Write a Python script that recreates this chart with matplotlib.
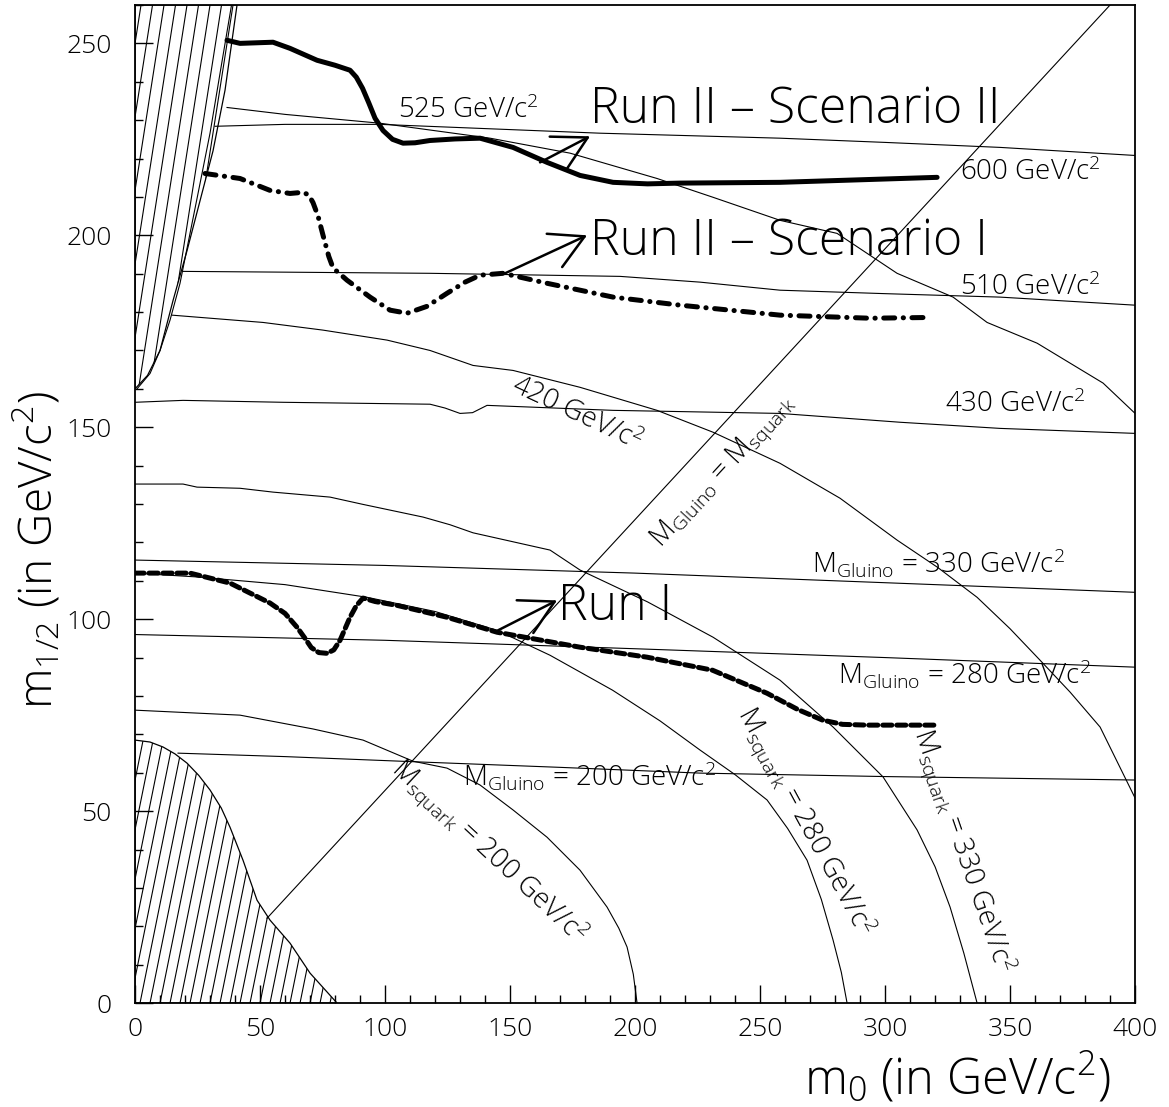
"""
mSUGRA reach plot (m0, m1/2) redrawn with matplotlib
"""

import numpy as np
import matplotlib
matplotlib.use("Agg")
import matplotlib.pyplot as plt
from matplotlib.patches import Polygon

FONT = 'Open Sans'
plt.rcParams['font.family'] = [FONT, 'DejaVu Sans']
plt.rcParams['font.weight'] = 'light'
plt.rcParams['mathtext.fontset'] = 'custom'
plt.rcParams['mathtext.rm'] = FONT + ':light'
plt.rcParams['mathtext.it'] = FONT + ':light'

# --- reach curves -------------------------------------------------------
scen2_x = [36.8, 42, 55.2, 62, 72.8, 80, 86, 88.5, 91, 93.5, 96, 99.2, 103, 107.2, 112, 118, 128, 138, 151.2, 164.8, 178, 191.2, 205, 218, 258, 320.8]
scen2_y = [250.8, 250.0, 250.3, 248.7, 245.6, 244.3, 243.0, 241.2, 238.3, 234.5, 230.5, 227.3, 225.0, 224.0, 224.1, 224.7, 225.1, 225.3, 222.9, 219.0, 215.6, 213.8, 213.4, 213.6, 213.8, 215.1]

scen1_x = [28, 42, 54, 62, 67.2, 69.5, 71.2, 73.2, 75.2, 77.5, 79.2, 84.8, 94, 102, 108.8, 116.8, 124.8, 132, 138, 147.2, 164.8, 191.2, 218, 258, 294, 318]
scen1_y = [216.1, 214.8, 211.7, 210.9, 211.2, 210.5, 208.5, 205.0, 200.0, 194.5, 191.5, 188.3, 183.9, 180.5, 179.7, 181.5, 184.9, 187.8, 189.6, 190.1, 187.5, 183.9, 181.8, 179.2, 178.4, 178.6]

run1_x = [0, 22, 38, 54, 60, 64.8, 68, 70.5, 73.5, 76.8, 79.5, 82, 84, 86, 88.5, 91.2, 96, 104.8, 124.8, 144.8, 178, 204.8, 231, 252.8, 265, 275, 283, 292.8, 320.8]
run1_y = [112.0, 112.0, 109.4, 104.2, 101.5, 97.9, 95.0, 92.6, 91.3, 91.1, 92.0, 94.5, 97.5, 100.5, 103.5, 105.5, 104.6, 103.6, 100.5, 96.6, 92.7, 90.1, 86.7, 80.7, 76.5, 73.7, 72.6, 72.4, 72.4]

# --- thin mass contours -------------------------------------------------
c525_x = [36.8, 60, 98, 142, 174, 208.8, 231.2, 258, 280.8, 304.8, 327.2, 340.8, 360.8, 387.2, 400]
c525_y = [233.3, 231.5, 229.2, 225.3, 221.4, 214.8, 209.9, 203.9, 200.5, 190.1, 183.9, 177.3, 171.9, 161.5, 153.6]

c600_x = [32, 60, 98, 140, 186, 258, 300, 346, 400]
c600_y = [228.4, 228.9, 228.9, 227.8, 226.6, 225.3, 224.2, 222.9, 220.8]

c510_x = [19.2, 60, 118, 194, 226, 258, 300, 346, 400]
c510_y = [190.6, 190.4, 190.1, 189.3, 187.8, 185.7, 184.8, 183.9, 181.8]

c420_x = [14.8, 51.2, 75.2, 100.8, 118, 135.2, 151.2, 178, 208.8, 231.2, 258, 282, 304.8, 321, 336.8, 350, 362, 374, 386, 400]
c420_y = [179.2, 177.3, 175.3, 172.7, 170.0, 166.1, 164.8, 160.4, 154.4, 148.7, 140.6, 131.5, 120.6, 113.5, 105.7, 97.5, 89.3, 81.0, 71.9, 53.4]

c430_x = [0, 19.2, 59.2, 118, 124, 130, 135, 140.8, 191.2, 258, 306, 346, 400]
c430_y = [156.5, 157.0, 156.5, 156.0, 155.0, 153.6, 153.8, 155.7, 154.4, 153.6, 151.3, 149.7, 148.4]

gl330_x = [0, 100, 200, 300, 400]
gl330_y = [115.4, 114.0, 112.0, 109.5, 107.0]

gl280_x = [0, 100, 200, 300, 400]
gl280_y = [96.0, 94.5, 92.3, 90.0, 87.5]

gl200_x = [17.2, 60, 114, 170, 226, 300, 400]
gl200_y = [65.1, 64.2, 62.8, 61.4, 59.9, 59.0, 58.1]

sq330_x = [0, 19.2, 24.8, 42, 55.2, 78, 91.2, 115.2, 126, 135.2, 166, 178, 205, 231.2, 258, 279.2, 299.2, 312.8, 320, 326, 331.5, 336.8]
sq330_y = [135.2, 135.2, 134.4, 134.1, 133.1, 131.8, 129.9, 126.6, 124.6, 122.5, 118.0, 112.8, 104.5, 95.3, 84.1, 71.9, 58.9, 45.1, 35.5, 25.0, 13.0, 0.0]

sq280_x = [0, 24.8, 60, 92.8, 120, 144.8, 166, 191, 210, 226, 240, 252.8, 261, 268.8, 274.5, 279.2, 282.5, 284.8]
sq280_y = [112.0, 111.0, 109.0, 105.7, 102.0, 97.1, 90.6, 81.5, 73.5, 65.9, 59.5, 52.9, 45.5, 37.2, 27.0, 16.4, 8.0, 0.0]

sq200_x = [0, 42, 71.2, 91.2, 111.2, 124.8, 138, 151.2, 164.8, 178, 188.8, 193.5, 196.8, 199.3, 200.8]
sq200_y = [76.3, 75.0, 71.4, 68.5, 63.0, 61.2, 56.8, 50.3, 43.2, 34.6, 25.0, 19.5, 14.6, 7.5, 0.0]

diag_x = [52.8, 390.0]
diag_y = [22.1, 260.0]

# --- excluded regions ---------------------------------------------------
top_bound_x = [0, 5, 10, 15.2, 20.8, 26, 31.2, 36, 40.8]
top_bound_y = [160, 163.5, 170, 183, 196, 209, 222, 237.8, 260]
top_inner_x = [0.8, 6, 10, 14, 18, 22, 26, 30, 34, 38.6]
top_inner_y = [160, 164, 170, 177.9, 187.5, 200.5, 213.5, 226.6, 242.2, 260]

low_bound_x = [0, 6, 11.2, 16, 20.8, 25.5, 30, 34.5, 38, 43.2, 48.8, 54, 62, 70, 80.8]
low_bound_y = [68.5, 68.0, 66.7, 64.9, 62.5, 59.3, 55.5, 50.8, 45.8, 37.2, 26.8, 21.6, 15.6, 7.8, 0.0]

fig = plt.figure(figsize=(11.69, 11.07), dpi=100)
ax = fig.add_axes([0.1155, 0.0939, 0.8555, 0.9016])
ax.set_xlim(0, 400)
ax.set_ylim(0, 260)

thin = dict(color='black', lw=0.8)
for cx, cy in [(c525_x, c525_y), (c600_x, c600_y), (c510_x, c510_y), (c420_x, c420_y),
               (c430_x, c430_y), (gl330_x, gl330_y), (gl280_x, gl280_y), (gl200_x, gl200_y),
               (sq330_x, sq330_y), (sq280_x, sq280_y), (sq200_x, sq200_y), (diag_x, diag_y)]:
    ax.plot(cx, cy, **thin)


def hatch_region(ax, px, py, spacing, slope, x_lo, x_hi, y_lo, y_hi):
    # steep hatching clipped to a polygon (matplotlib hatches are 45 deg only)
    poly = Polygon(np.column_stack([px, py]), closed=True, facecolor='none',
                   edgecolor='black', lw=0.9)
    ax.add_patch(poly)
    for x0 in np.arange(x_lo, x_hi, spacing):
        ln, = ax.plot([x0, x0 + slope * (y_hi - y_lo)], [y_lo, y_hi], color='black', lw=0.8)
        ln.set_clip_path(poly)


# upper-left (theory excluded) region
hx = [0] + top_bound_x + [0]
hy = [160] + top_bound_y + [260]
hatch_region(ax, hx, hy, 4.6, 0.24, -70, 45, 150, 262)
ax.plot(top_inner_x, top_inner_y, **thin)

# lower-left (LEP excluded) region
lx = [0] + low_bound_x + [0]
ly = [68.5] + low_bound_y + [0]
hatch_region(ax, lx, ly, 4.0, 0.31, -30, 85, 0, 80)

# reach curves
ax.plot(scen2_x, scen2_y, color='black', lw=3.6, solid_capstyle='round', solid_joinstyle='round')
ax.plot(scen1_x, scen1_y, color='black', lw=3.6, dashes=(2.2, 1.7, 0.05, 1.7),
        dash_capstyle='round')
ax.plot(run1_x, run1_y, color='black', lw=3.6, dashes=(1.8, 1.0), dash_capstyle='round')

arrow = dict(arrowstyle='->,head_length=1.0,head_width=0.55', lw=1.8, color='black',
             mutation_scale=24, shrinkA=0, shrinkB=0)
ax.annotate('', xy=(182, 225.8), xytext=(162, 219.0), arrowprops=arrow)
ax.annotate('', xy=(180.8, 200.0), xytext=(148, 190.1), arrowprops=arrow)
ax.annotate('', xy=(168.8, 104.9), xytext=(145.2, 97.1), arrowprops=arrow)

big = dict(fontsize=36, fontweight='light', ha='left', va='baseline')
ax.text(182, 229.2, 'Run II \u2013 Scenario II', **big)
ax.text(182, 194.8, 'Run II \u2013 Scenario I', **big)
ax.text(169.2, 99.7, 'Run I', **big)

mid = dict(fontsize=20, ha='left', va='baseline')
ax.text(105.2, 230.5, r'525 GeV/c$^2$', **mid)
ax.text(330, 214.3, r'600 GeV/c$^2$', **mid)
ax.text(330, 184.4, r'510 GeV/c$^2$', **mid)
ax.text(324, 153.9, r'430 GeV/c$^2$', **mid)
ax.text(150, 159.5, r'420 GeV/c$^2$', rotation=-25, rotation_mode='anchor', **mid)

ax.text(270.8, 112.2, r'M$_{\mathregular{Gluino}}$ = 330 GeV/c$^2$', **mid)
ax.text(281.2, 83.3, r'M$_{\mathregular{Gluino}}$ = 280 GeV/c$^2$', **mid)
ax.text(131.2, 56.8, r'M$_{\mathregular{Gluino}}$ = 200 GeV/c$^2$', **mid)
ax.text(210, 118.5, r'M$_{\mathregular{Gluino}}$ = M$_{\mathregular{squark}}$', rotation=47.4,
        rotation_mode='anchor', **mid)
ax.text(102, 60.5, r'M$_{\mathregular{squark}}$ = 200 GeV/c$^2$', rotation=-43,
        rotation_mode='anchor', **mid)
ax.text(241, 75.5, r'M$_{\mathregular{squark}}$ = 280 GeV/c$^2$', rotation=-61.5,
        rotation_mode='anchor', **mid)
ax.text(311.5, 70.5, r'M$_{\mathregular{squark}}$ = 330 GeV/c$^2$', rotation=-71,
        rotation_mode='anchor', **mid)

# axes styling (PAW look: ticks inside, left/bottom only)
ax.set_xticks(np.arange(0, 401, 50))
ax.set_yticks(np.arange(0, 251, 50))
ax.set_xticks(np.arange(0, 401, 10), minor=True)
ax.set_yticks(np.arange(0, 261, 10), minor=True)
ax.tick_params(which='both', direction='in', top=False, right=False, width=1.0,
               labelsize=19)
ax.tick_params(axis='x', pad=10)
ax.tick_params(axis='y', pad=17)
ax.tick_params(which='major', length=13)
ax.tick_params(which='minor', length=6)
for sp in ax.spines.values():
    sp.set_linewidth(1.3)

ax.set_xlabel(r'm$_0$ (in GeV/c$^2$)', fontsize=35, fontweight='light', ha='right')
ax.set_ylabel(r'm$_{1/2}$ (in GeV/c$^2$)', fontsize=33, fontweight='light')
ax.xaxis.set_label_coords(0.975, -0.048)
ax.yaxis.set_label_coords(-0.072, 0.454)

fig.savefig('out.png', dpi=100)
